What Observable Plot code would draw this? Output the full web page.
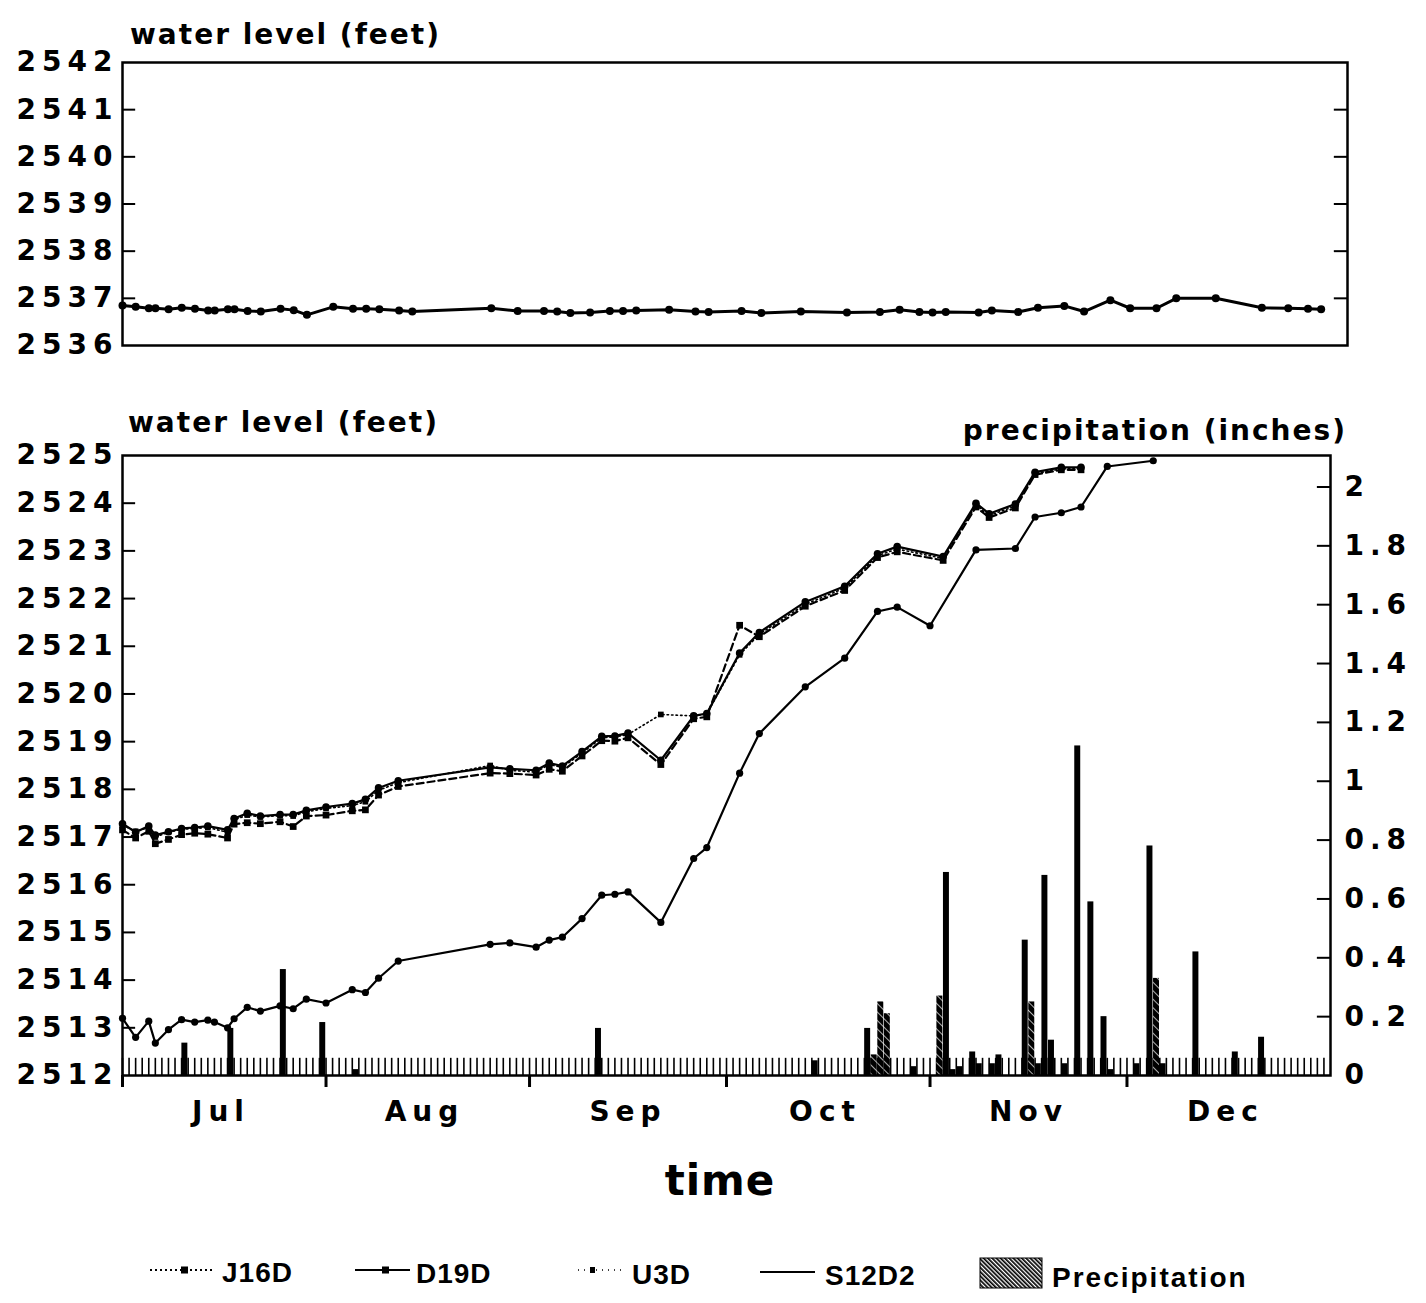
<!DOCTYPE html>
<html><head><meta charset="utf-8">
<script src="https://cdn.jsdelivr.net/npm/d3@7"></script>
<script src="https://cdn.jsdelivr.net/npm/@observablehq/plot@0.6"></script>
<style>
body{margin:0;background:#fff;}
#wrap{position:relative;width:1426px;height:1303px;overflow:hidden;background:#fff;}
</style></head><body><div id="wrap"></div>
<script>
const YEAR = 1989;

// ---- top panel well ----
const topWellDates = ["07-01","07-03","07-05","07-06","07-08","07-10","07-12","07-14","07-15","07-17","07-18","07-20","07-22","07-25","07-27","07-29",
  "08-02","08-05","08-07","08-09","08-12","08-14","08-26","08-30","09-03","09-05","09-07","09-10","09-13","09-15","09-17","09-22","09-26","09-28",
  "10-03","10-06","10-12","10-19","10-24","10-27","10-30","11-01","11-03","11-08","11-10","11-14","11-17","11-21","11-24","11-28",
  "12-01","12-05","12-08","12-14","12-21","12-25","12-28","12-30"];
const topWellLevel = [2536.85,2536.82,2536.79,2536.79,2536.77,2536.80,2536.78,2536.74,2536.74,2536.77,2536.77,2536.73,2536.72,2536.78,2536.75,2536.65,
  2536.82,2536.78,2536.78,2536.77,2536.74,2536.72,2536.79,2536.73,2536.73,2536.72,2536.69,2536.70,2536.73,2536.73,2536.74,2536.76,2536.72,2536.71,
  2536.73,2536.69,2536.72,2536.70,2536.71,2536.76,2536.71,2536.70,2536.71,2536.70,2536.74,2536.71,2536.80,2536.84,2536.72,2536.96,
  2536.79,2536.79,2537.00,2537.00,2536.80,2536.79,2536.78,2536.77];

// ---- bottom panel: upper cluster of wells ----
const clusterDates = ["07-01","07-03","07-05","07-06","07-08","07-10","07-12","07-14","07-17","07-18","07-20","07-22","07-25","07-27","07-29",
  "08-01","08-05","08-07","08-09","08-12","08-26","08-29",
  "09-02","09-04","09-06","09-09","09-12","09-14","09-16","09-21","09-26","09-28",
  "10-03","10-06","10-13","10-19","10-24","10-27",
  "11-03","11-08","11-10","11-14","11-17","11-21","11-24"];
const S12D2 = [2517.28,2517.10,2517.23,2517.04,2517.11,2517.18,2517.20,2517.23,2517.15,2517.39,2517.50,2517.44,2517.47,2517.47,2517.56,
  2517.63,2517.70,2517.79,2518.03,2518.18,2518.46,2518.43,
  2518.40,2518.55,2518.49,2518.79,2519.11,2519.12,2519.18,2518.61,2519.54,2519.59,
  2520.86,2521.29,2521.93,2522.26,2522.94,2523.09,
  2522.88,2524.00,2523.78,2523.98,2524.65,2524.75,2524.75];
const J16D = [2517.15,2516.98,2517.12,2516.86,2516.95,2517.05,2517.08,2517.06,2516.98,2517.27,2517.30,2517.28,2517.32,2517.22,2517.44,
  2517.46,2517.55,2517.57,2517.88,2518.06,2518.34,2518.33,
  2518.30,2518.42,2518.38,2518.70,2519.02,2519.01,2519.08,2518.52,2519.48,2519.52,
  2521.44,2521.20,2521.84,2522.17,2522.86,2522.98,
  2522.80,2523.92,2523.70,2523.90,2524.60,2524.70,2524.70];
const U3D = [2517.25,2517.12,2517.20,2517.00,2517.10,2517.16,2517.18,2517.20,2517.10,2517.36,2517.46,2517.42,2517.45,2517.44,2517.53,
  2517.60,2517.66,2517.74,2517.98,2518.14,2518.50,2518.40,
  2518.36,2518.52,2518.46,2518.76,2519.08,2519.10,2519.15,2519.57,2519.54,2519.58,
  2520.82,2521.25,2521.88,2522.22,2522.90,2523.04,
  2522.84,2523.96,2523.74,2523.94,2524.62,2524.72,2524.72];

// ---- bottom panel: lower well ----
const D19DDates = ["07-01","07-03","07-05","07-06","07-08","07-10","07-12","07-14","07-15","07-17","07-18","07-20","07-22","07-25","07-27","07-29",
  "08-01","08-05","08-07","08-09","08-12","08-26","08-29",
  "09-02","09-04","09-06","09-09","09-12","09-14","09-16","09-21","09-26","09-28",
  "10-03","10-06","10-13","10-19","10-24","10-27",
  "11-01","11-08","11-14","11-17","11-21","11-24","11-28","12-05"];
const D19D = [2513.20,2512.80,2513.14,2512.68,2512.96,2513.17,2513.12,2513.16,2513.12,2513.00,2513.19,2513.43,2513.35,2513.46,2513.40,2513.60,
  2513.52,2513.80,2513.74,2514.04,2514.40,2514.75,2514.78,
  2514.69,2514.84,2514.90,2515.29,2515.78,2515.80,2515.85,2515.21,2516.55,2516.78,
  2518.34,2519.17,2520.15,2520.75,2521.73,2521.82,
  2521.43,2523.02,2523.05,2523.71,2523.80,2523.92,2524.77,2524.89];

// ---- precipitation (inches) ----
const precipDates = ["07-10","07-17","07-25","07-31","08-05","09-11","10-14","10-22","10-23","10-24","10-25","10-29",
  "11-02","11-03","11-04","11-05","11-07","11-08","11-10","11-11","11-15","11-16","11-17","11-18","11-19","11-21",
  "11-23","11-25","11-27","11-28","12-02","12-04","12-05","12-06","12-11","12-17","12-21"];
const precipInches = [0.11,0.16,0.36,0.18,0.02,0.16,0.05,0.16,0.07,0.25,0.21,0.03,
  0.27,0.69,0.02,0.03,0.08,0.04,0.04,0.07,0.46,0.25,0.04,0.68,0.12,0.04,
  1.12,0.59,0.20,0.02,0.04,0.78,0.33,0.04,0.42,0.08,0.13];
const precipHatched = [0,0,0,0,0,0,0,0,1,1,1,0,
  1,0,0,0,0,0,0,0,0,1,0,0,0,0,
  0,0,0,0,0,0,1,0,0,0,0];

// ---- tick labels ----
const topTicks = [2536,2537,2538,2539,2540,2541,2542];
const bottomTicks = [2512,2513,2514,2515,2516,2517,2518,2519,2520,2521,2522,2523,2524,2525];
const precipTicks = [0,0.2,0.4,0.6,0.8,1,1.2,1.4,1.6,1.8,2];
const precipTickLabels = ["0","0.2","0.4","0.6","0.8","1","1.2","1.4","1.6","1.8","2"];
const monthNames = ["Jul","Aug","Sep","Oct","Nov","Dec"];
const legendNames = ["J16D","D19D","U3D","S12D2","Precipitation"];

// ---- helpers ----
const parse = s => new Date(`${YEAR}-${s}T00:00:00Z`);
const FT_PER_IN = 13 / 2.107;   // right axis: 0..2.107 in spans 2512..2525 ft
const pToFt = p => 2512 + p * FT_PER_IN;
const start = parse("07-01");
const end = new Date(Date.UTC(YEAR + 1, 0, 1));
const topEnd = d3.utcDay.offset(end, 2);
const days = d3.utcDay.range(start, end);
const monthStarts = d3.utcMonth.range(start, end);
const midMonths = monthStarts.map(d => d3.utcDay.offset(d, 15));

const mk = (dates, vals) => dates.map((d, i) => ({date: parse(d), v: vals[i]}));
const topData = mk(topWellDates, topWellLevel);
const sData = mk(clusterDates, S12D2);
const jData = mk(clusterDates, J16D);
const uData = mk(clusterDates, U3D);
const dData = mk(D19DDates, D19D);
const precip = precipDates.map((d, i) => ({date: parse(d), p: precipInches[i], h: precipHatched[i]}));

const FONT = "'DejaVu Sans', 'Liberation Sans', sans-serif";
const baseStyle = {fontFamily: FONT, fontWeight: "bold", fontSize: "28px", letterSpacing: "6px", background: "transparent", color: "black", overflow: "visible"};
const intFmt = d => String(d);

const wrap = document.getElementById("wrap");

// ---------- TOP PANEL ----------
const topPlot = Plot.plot({
  width: 1426, height: 390,
  marginLeft: 122, marginRight: 79, marginTop: 62, marginBottom: 45,
  x: {type: "utc", domain: [start, topEnd], axis: null},
  y: {domain: [2536, 2542], axis: null},
  style: baseStyle,
  marks: [
    Plot.frame({stroke: "black", strokeWidth: 2.5}),
    Plot.axisY(topTicks, {anchor: "left", tickSize: 0, tickPadding: 4, label: null, tickFormat: intFmt}),
    Plot.ruleY(topTicks.slice(1, -1), {y: d => d, x1: () => start, x2: () => d3.utcDay.offset(start, 2), strokeWidth: 2}),
    Plot.ruleY(topTicks.slice(1, -1), {y: d => d, x1: () => end, x2: () => topEnd, strokeWidth: 2}),
    Plot.line(topData, {x: "date", y: "v", stroke: "black", strokeWidth: 3}),
    Plot.dot(topData, {x: "date", y: "v", r: 4, fill: "black", stroke: null})
  ]
});
topPlot.style.position = "absolute"; topPlot.style.left = "0px"; topPlot.style.top = "0px";
wrap.appendChild(topPlot);

// ---------- BOTTOM PANEL ----------
const barX1 = d => d.date, barX2 = d => d3.utcDay.offset(d.date, 1);
const bottomPlot = Plot.plot({
  width: 1426, height: 913,
  marginLeft: 122, marginRight: 96, marginTop: 65, marginBottom: 228,
  x: {type: "utc", domain: [start, end], axis: null},
  y: {domain: [2512, 2525], axis: null},
  style: baseStyle,
  marks: [
    Plot.ruleX(days, {x: d => d, y1: () => 2512, y2: () => 2512.36, stroke: "black", strokeWidth: 1.6}),
    Plot.rectY(precip.filter(d => !d.h), {x1: barX1, x2: barX2, y1: () => 2512, y2: d => pToFt(d.p), fill: "black", insetLeft: 0.3, insetRight: 0.3}),
    Plot.rectY(precip.filter(d => d.h), {x1: barX1, x2: barX2, y1: () => 2512, y2: d => pToFt(d.p), fill: "url(#hatchBar)", insetLeft: 0.3, insetRight: 0.3}),
    Plot.frame({stroke: "black", strokeWidth: 2.5}),
    Plot.axisY(bottomTicks, {anchor: "left", tickSize: 0, tickPadding: 4, label: null, tickFormat: intFmt}),
    Plot.ruleY(bottomTicks.slice(1, -1), {y: d => d, x1: () => start, x2: () => d3.utcDay.offset(start, 2), strokeWidth: 2}),
    Plot.axisY(precipTicks.map(pToFt), {anchor: "right", tickSize: 0, tickPadding: 14, label: null,
      tickFormat: d => precipTickLabels[precipTicks.findIndex(t => Math.abs(pToFt(t) - d) < 1e-6)]}),
    Plot.ruleY(precipTicks.slice(1), {y: pToFt, x1: () => d3.utcDay.offset(end, -2), x2: () => end, strokeWidth: 2}),
    Plot.axisX(monthStarts, {anchor: "bottom", tickSize: 12, tickFormat: () => "", strokeWidth: 3, label: null}),
    Plot.axisX(midMonths, {anchor: "bottom", tickSize: 0, tickPadding: 26, label: null,
      tickFormat: d => monthNames[d.getUTCMonth() - 6]}),
    Plot.line(dData, {x: "date", y: "v", stroke: "black", strokeWidth: 2.2}),
    Plot.dot(dData, {x: "date", y: "v", r: 3.6, fill: "black", stroke: null}),
    Plot.line(uData, {x: "date", y: "v", stroke: "black", strokeWidth: 1.6, strokeDasharray: "1.5,3"}),
    Plot.dot(uData, {x: "date", y: "v", r: 3.2, fill: "black", stroke: null, symbol: "square"}),
    Plot.line(jData, {x: "date", y: "v", stroke: "black", strokeWidth: 2.2, strokeDasharray: "7,4"}),
    Plot.dot(jData, {x: "date", y: "v", r: 3.8, fill: "black", stroke: null, symbol: "square"}),
    Plot.line(sData, {x: "date", y: "v", stroke: "black", strokeWidth: 2.2}),
    Plot.dot(sData, {x: "date", y: "v", r: 3.8, fill: "black", stroke: null})
  ]
});
bottomPlot.style.position = "absolute"; bottomPlot.style.left = "0px"; bottomPlot.style.top = "390px";
wrap.appendChild(bottomPlot);

// ---------- OVERLAY: titles, legend, patterns ----------
const ov = d3.select(wrap).append("svg")
  .attr("width", 1426).attr("height", 1303)
  .style("position", "absolute").style("left", "0px").style("top", "0px")
  .style("pointer-events", "none");
const defs = ov.append("defs");
const pb = defs.append("pattern").attr("id", "hatchBar").attr("width", 6).attr("height", 6)
  .attr("patternUnits", "userSpaceOnUse").attr("patternTransform", "rotate(-45)");
pb.append("rect").attr("width", 6).attr("height", 6).attr("fill", "black");
pb.append("rect").attr("x", 0).attr("width", 0.7).attr("height", 6).attr("fill", "white");
const pl = defs.append("pattern").attr("id", "hatchLegend").attr("width", 3).attr("height", 3)
  .attr("patternUnits", "userSpaceOnUse").attr("patternTransform", "rotate(-45)");
pl.append("rect").attr("width", 3).attr("height", 3).attr("fill", "white");
pl.append("rect").attr("x", 0).attr("width", 1.7).attr("height", 3).attr("fill", "black");

const T = (x, y, s, size, anchor = "start", ls = 2, fam = FONT) => ov.append("text")
  .attr("x", x).attr("y", y).attr("text-anchor", anchor)
  .attr("font-family", fam).attr("font-weight", "bold").attr("font-size", size)
  .attr("letter-spacing", ls).attr("fill", "black").text(s);

T(130, 44, "water level (feet)", 28, "start", 2);
T(128, 432, "water level (feet)", 28, "start", 2);
T(1347, 440, "precipitation (inches)", 28, "end", 2);
T(720, 1195, "time", 42, "middle", 1);

// legend
const LF = "'Liberation Sans', Arial, sans-serif";
const ly = 1270;
const g = ov.append("g").attr("stroke", "black");
g.append("line").attr("x1", 150).attr("x2", 212).attr("y1", ly).attr("y2", ly).attr("stroke-width", 1.8).attr("stroke-dasharray", "2,3");
g.append("rect").attr("x", 181).attr("y", ly - 3.5).attr("width", 7).attr("height", 7).attr("fill", "black").attr("stroke", "none");
g.append("line").attr("x1", 355).attr("x2", 410).attr("y1", ly).attr("y2", ly).attr("stroke-width", 2);
g.append("rect").attr("x", 382).attr("y", ly - 3.5).attr("width", 7).attr("height", 7).attr("fill", "black").attr("stroke", "none");
g.append("line").attr("x1", 578).attr("x2", 622).attr("y1", ly).attr("y2", ly).attr("stroke-width", 1.4).attr("stroke-dasharray", "1,5");
g.append("rect").attr("x", 590).attr("y", ly - 3).attr("width", 5).attr("height", 6).attr("fill", "black").attr("stroke", "none");
g.append("line").attr("x1", 760).attr("x2", 815).attr("y1", ly + 2).attr("y2", ly + 2).attr("stroke-width", 2);
ov.append("rect").attr("x", 980).attr("y", 1258).attr("width", 62).attr("height", 30).attr("fill", "url(#hatchLegend)").attr("stroke", "black").attr("stroke-width", 1);
T(222, 1282, legendNames[0], 28, "start", 1, LF);
T(416, 1283, legendNames[1], 28, "start", 1, LF);
T(632, 1284, legendNames[2], 28, "start", 1, LF);
T(825, 1285, legendNames[3], 28, "start", 1, LF);
T(1052, 1287, legendNames[4], 28, "start", 2, LF);
</script></body></html>
